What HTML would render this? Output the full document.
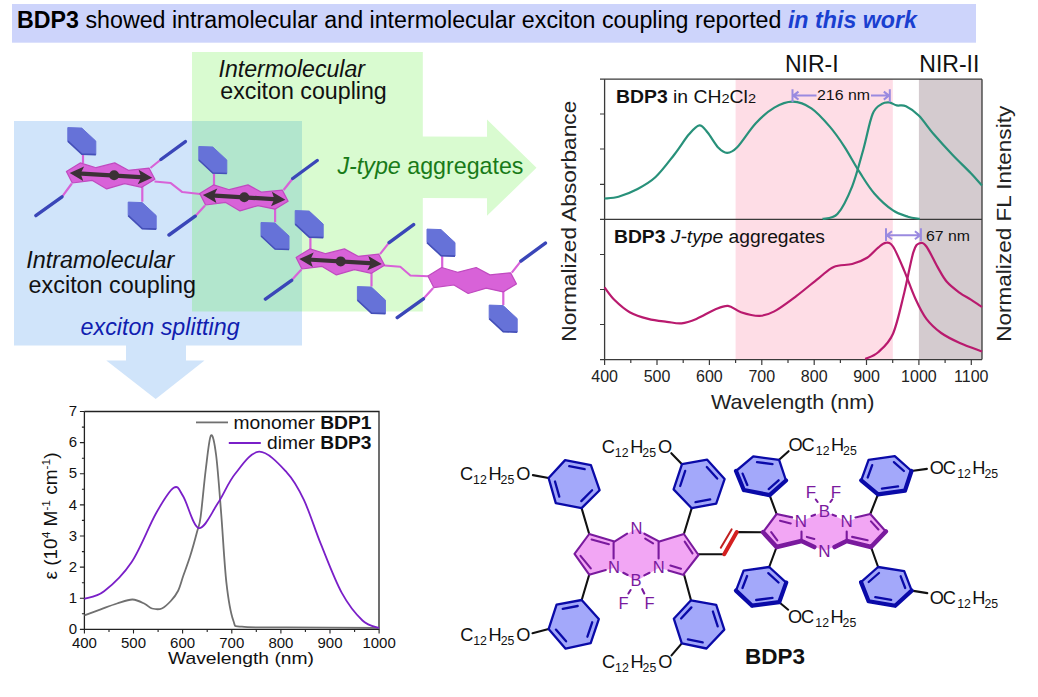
<!DOCTYPE html>
<html><head><meta charset="utf-8"><style>
html,body{margin:0;padding:0;background:#fff;}
body{width:1038px;height:697px;overflow:hidden;}
svg{display:block;}
</style></head><body>
<svg width="1038" height="697" viewBox="0 0 1038 697">
<rect x="12" y="4" width="964" height="38.7" fill="#cdd4fb"/>
<rect x="14" y="121" width="288" height="224.5" fill="#d0e4fa"/>
<polygon points="126,345 186,345 186,360.5 204.5,360.5 155.7,399 106.3,360.5 126,360.5" fill="#d0e4fa"/>
<polygon points="192,52 422.8,52 422.8,136.5 487,136.8 487,119.5 536.5,167.7 487,215.8 487,198.2 422.8,198 422.8,311.5 302,311.5 302,121 192,121" fill="#d9fbd0"/>
<rect x="192" y="121" width="110" height="190.5" fill="#b2e6cd"/>
<text x="17" y="27.7" font-family='"Liberation Sans", sans-serif' font-size="23" fill="#000" textLength="900" lengthAdjust="spacingAndGlyphs"><tspan font-weight="bold">BDP3</tspan> showed intramolecular and intermolecular exciton coupling reported <tspan font-weight="bold" font-style="italic" fill="#1a3fd0">in this work</tspan></text>
<text x="218.5" y="76.8" font-family='"Liberation Sans", sans-serif' font-size="23" font-style="italic" fill="#111" textLength="146.5" lengthAdjust="spacingAndGlyphs">Intermolecular</text>
<text x="220.3" y="99" font-family='"Liberation Sans", sans-serif' font-size="23" fill="#111" textLength="166.5" lengthAdjust="spacingAndGlyphs">exciton coupling</text>
<text x="337.5" y="174.2" font-family='"Liberation Sans", sans-serif' font-size="23.2" fill="#187a18" textLength="186" lengthAdjust="spacingAndGlyphs"><tspan font-style="italic">J-type</tspan> aggregates</text>
<text x="26.3" y="267.6" font-family='"Liberation Sans", sans-serif' font-size="23" font-style="italic" fill="#111" textLength="148" lengthAdjust="spacingAndGlyphs">Intramolecular</text>
<text x="28.6" y="292.8" font-family='"Liberation Sans", sans-serif' font-size="23" fill="#111" textLength="167.5" lengthAdjust="spacingAndGlyphs">exciton coupling</text>
<text x="80.6" y="334.8" font-family='"Liberation Sans", sans-serif' font-size="23" font-style="italic" fill="#1020b0" textLength="159" lengthAdjust="spacingAndGlyphs">exciton splitting</text>
<rect x="735.6" y="79.2" width="157.2" height="280.4" fill="#fedde6"/>
<rect x="918.9" y="79.2" width="63.1" height="280.4" fill="#d4cbcf"/>
<path d="M604.6,79.2 V359.6 M982,79.2 V359.6" stroke="#3a3a3a" stroke-width="1.3" fill="none"/>
<path d="M600,79.2 H982 M600,219.3 H982 M600,359.6 H982" stroke="#3a3a3a" stroke-width="1.3" fill="none"/>
<path d="M600,114 H604.6 M600,149 H604.6 M600,184.3 H604.6 M600,254.5 H604.6 M600,289.5 H604.6 M600,324.5 H604.6 M604.6,359.6 v5.3 M630.8,359.6 v3.5 M657,359.6 v5.3 M683.2,359.6 v3.5 M709.4,359.6 v5.3 M735.6,359.6 v3.5 M761.8,359.6 v5.3 M788,359.6 v3.5 M814.2,359.6 v5.3 M840.4,359.6 v3.5 M866.5,359.6 v5.3 M892.7,359.6 v3.5 M918.9,359.6 v5.3 M945.1,359.6 v3.5 M971.3,359.6 v5.3 " stroke="#3a3a3a" stroke-width="1.2" fill="none"/>
<text x="604.6" y="382" text-anchor="middle" font-family='"Liberation Sans", sans-serif' font-size="16" fill="#222">400</text>
<text x="657" y="382" text-anchor="middle" font-family='"Liberation Sans", sans-serif' font-size="16" fill="#222">500</text>
<text x="709.4" y="382" text-anchor="middle" font-family='"Liberation Sans", sans-serif' font-size="16" fill="#222">600</text>
<text x="761.8" y="382" text-anchor="middle" font-family='"Liberation Sans", sans-serif' font-size="16" fill="#222">700</text>
<text x="814.2" y="382" text-anchor="middle" font-family='"Liberation Sans", sans-serif' font-size="16" fill="#222">800</text>
<text x="866.5" y="382" text-anchor="middle" font-family='"Liberation Sans", sans-serif' font-size="16" fill="#222">900</text>
<text x="918.9" y="382" text-anchor="middle" font-family='"Liberation Sans", sans-serif' font-size="16" fill="#222">1000</text>
<text x="971.3" y="382" text-anchor="middle" font-family='"Liberation Sans", sans-serif' font-size="16" fill="#222">1100</text>
<text x="711" y="408.8" font-family='"Liberation Sans", sans-serif' font-size="20.4" fill="#222" textLength="163.5" lengthAdjust="spacingAndGlyphs">Wavelength (nm)</text>
<text x="785" y="71.9" font-family='"Liberation Sans", sans-serif' font-size="23" fill="#111">NIR-I</text>
<text x="919.3" y="71.9" font-family='"Liberation Sans", sans-serif' font-size="23" fill="#111">NIR-II</text>
<text transform="translate(575.5,341.7) rotate(-90)" x="0" y="0" font-family='"Liberation Sans", sans-serif' font-size="21" fill="#222" textLength="241" lengthAdjust="spacingAndGlyphs">Normalized Absorbance</text>
<text transform="translate(1011,341.8) rotate(-90)" x="0" y="0" font-family='"Liberation Sans", sans-serif' font-size="21" fill="#222" textLength="236" lengthAdjust="spacingAndGlyphs">Normalized FL Intensity</text>
<text x="616" y="103.1" font-family='"Liberation Sans", sans-serif' font-size="18" fill="#111" textLength="140" lengthAdjust="spacingAndGlyphs"><tspan font-weight="bold">BDP3</tspan> in CH<tspan font-size="13.5">2</tspan>Cl<tspan font-size="13.5">2</tspan></text>
<text x="614" y="243" font-family='"Liberation Sans", sans-serif' font-size="18" fill="#111" textLength="211" lengthAdjust="spacingAndGlyphs"><tspan font-weight="bold">BDP3</tspan> <tspan font-style="italic">J-type</tspan> aggregates</text>
<path d="M604.5,198.5 C606.8,198.2 613.1,198.2 618.5,196.7 C623.9,195.1 630.9,192.5 637.1,189.2 C643.3,185.9 649.4,182.8 655.6,177 C661.8,171.2 668.6,161.8 674.2,154.7 C679.8,147.6 684.8,139.2 689,134.3 C693.2,129.4 696.3,125.7 699.4,125.4 C702.5,125.1 704.4,128.7 707.6,132.5 C710.8,136.3 715.4,144.7 718.7,148.1 C722,151.5 724.1,153 727.2,152.9 C730.3,152.8 732.4,152.2 737.2,147.3 C742,142.4 749.6,129.8 755.8,123.2 C762,116.6 768.1,111.2 774.3,107.6 C780.5,104 786.7,101.6 792.9,101.7 C799.1,101.8 805.2,104.2 811.4,108.4 C817.6,112.6 824.4,120.4 830,126.9 C835.6,133.4 839.9,139.8 844.8,147.3 C849.7,154.9 854.6,164.5 859.6,172.2 C864.6,179.9 868.9,187.3 874.5,193.7 C880.1,200.1 887.4,206.6 893,210.4 C898.6,214.2 903.4,215.3 907.9,216.7 C912.4,218.1 917.7,218.5 919.7,218.9" stroke="#28917a" stroke-width="2.2" fill="none" stroke-linejoin="round"/>
<path d="M822.6,218.9 C825.1,218.1 832.5,219.5 837.4,214.1 C842.3,208.7 847.9,197.1 852.2,186.3 C856.5,175.5 860,161.2 863.4,149.2 C866.8,137.1 869.5,121.5 872.6,114 C875.7,106.5 879.1,105.8 881.9,103.9 C884.7,102 886.8,102.2 889.3,102.4 C891.8,102.7 893.9,104.8 896.7,105.4 C899.5,106 902.3,104.5 906,106.2 C909.7,107.9 914.4,111.1 919,115.8 C923.6,120.5 928.2,127.8 933.8,134.3 C939.4,140.8 946.2,148.2 952.4,154.7 C958.6,161.2 966,168.2 970.9,173.3 C975.8,178.4 980.1,183.5 982,185.5" stroke="#28917a" stroke-width="2.2" fill="none" stroke-linejoin="round"/>
<path d="M604.5,287.3 C606.2,289.5 610.6,296.2 614.8,300.3 C619,304.4 624.1,309.1 629.7,312.2 C635.3,315.3 642,317.3 648.2,318.9 C654.4,320.5 661.2,321.1 666.8,321.8 C672.4,322.5 676.7,323.8 681.6,323.3 C686.5,322.8 690.8,321.2 696.4,318.9 C702,316.6 709.7,311.8 715,309.6 C720.3,307.4 723.7,305.5 728,305.9 C732.3,306.3 735.8,310.5 741,312.2 C746.2,313.9 754,316 759.5,315.9 C765,315.8 768.1,314.7 774.3,311.4 C780.5,308.1 789.2,301.4 796.6,295.9 C804,290.3 812.6,282.9 818.8,278.1 C825,273.3 828.1,269.2 833.7,266.9 C839.3,264.5 846.6,265.5 852.2,264 C857.8,262.5 862.8,260.4 867.1,257.7 C871.4,255 875.1,250.1 878.2,247.6 C881.3,245.1 883.1,243 885.6,242.8 C888.1,242.6 889.9,241.9 893,246.5 C896.1,251.1 900.5,261.9 904.2,270.6 C907.9,279.3 911.6,290.4 915.3,298.5 C919,306.6 922.1,313.1 926.4,318.9 C930.7,324.6 935.6,329 941.2,333 C946.8,337 953,339.9 959.8,343 C966.6,346.1 978.3,350.1 982,351.5" stroke="#b91a6e" stroke-width="2.2" fill="none" stroke-linejoin="round"/>
<path d="M865.2,358.9 C867.4,357.8 873.6,356.4 878.2,352.2 C882.8,348 888.7,343.6 893,333.7 C897.3,323.8 900.8,306.5 904.2,292.9 C907.6,279.3 910.8,260.4 913.4,252.1 C916,243.8 917.5,244.1 919.7,243.2 C921.9,242.3 923.4,242.6 926.4,246.5 C929.4,250.4 934.1,261 937.5,266.9 C940.9,272.8 943.1,277.5 946.8,281.8 C950.5,286.1 955.8,289.9 959.8,292.9 C963.8,295.9 967.2,297.2 970.9,299.6 C974.6,302 980.1,305.8 982,307" stroke="#b91a6e" stroke-width="2.2" fill="none" stroke-linejoin="round"/>
<path d="M792.5,89.2 V102 M889.8,89.2 V102 M792.5,95.6 H816.5 M871,95.6 H889.8 M798.5,91.6 L793.3,95.6 L798.5,99.6 M883.8,91.6 L889.0,95.6 L883.8,99.6" stroke="#9a8ae0" stroke-width="2" fill="none"/>
<text x="817" y="99.7" font-family='"Liberation Sans", sans-serif' font-size="15.5" fill="#111" textLength="53" lengthAdjust="spacingAndGlyphs">216 nm</text>
<path d="M886,228.3 V241 M920.9,228.3 V241 M886,235.2 H920.9 M892,231.2 L886.8,235.2 L892,239.2 M914.9,231.2 L920.1,235.2 L914.9,239.2" stroke="#9a8ae0" stroke-width="2" fill="none"/>
<text x="926" y="241.4" font-family='"Liberation Sans", sans-serif' font-size="15.5" fill="#111" textLength="44" lengthAdjust="spacingAndGlyphs">67 nm</text>
<path d="M84.4,411.5 V629.4 H379 V411.5 H84.4" stroke="#222" stroke-width="1.3" fill="none"/>
<path d="M79.9,629.4 H84.4 M81.9,613.8 H84.4 M79.9,598.3 H84.4 M81.9,582.7 H84.4 M79.9,567.1 H84.4 M81.9,551.6 H84.4 M79.9,536 H84.4 M81.9,520.4 H84.4 M79.9,504.9 H84.4 M81.9,489.3 H84.4 M79.9,473.8 H84.4 M81.9,458.2 H84.4 M79.9,442.6 H84.4 M81.9,427.1 H84.4 M79.9,411.5 H84.4 M84.4,629.4 v4 M109,629.4 v2.5 M133.5,629.4 v4 M158.1,629.4 v2.5 M182.6,629.4 v4 M207.2,629.4 v2.5 M231.8,629.4 v4 M256.3,629.4 v2.5 M280.9,629.4 v4 M305.4,629.4 v2.5 M330,629.4 v4 M354.6,629.4 v2.5 M379.1,629.4 v4 " stroke="#222" stroke-width="1.1" fill="none"/>
<text x="77" y="634" text-anchor="end" font-family='"Liberation Sans", sans-serif' font-size="15" fill="#111">0</text>
<text x="77" y="602.9" text-anchor="end" font-family='"Liberation Sans", sans-serif' font-size="15" fill="#111">1</text>
<text x="77" y="571.7" text-anchor="end" font-family='"Liberation Sans", sans-serif' font-size="15" fill="#111">2</text>
<text x="77" y="540.6" text-anchor="end" font-family='"Liberation Sans", sans-serif' font-size="15" fill="#111">3</text>
<text x="77" y="509.5" text-anchor="end" font-family='"Liberation Sans", sans-serif' font-size="15" fill="#111">4</text>
<text x="77" y="478.4" text-anchor="end" font-family='"Liberation Sans", sans-serif' font-size="15" fill="#111">5</text>
<text x="77" y="447.2" text-anchor="end" font-family='"Liberation Sans", sans-serif' font-size="15" fill="#111">6</text>
<text x="77" y="416.1" text-anchor="end" font-family='"Liberation Sans", sans-serif' font-size="15" fill="#111">7</text>
<text x="84.4" y="648.3" text-anchor="middle" font-family='"Liberation Sans", sans-serif' font-size="15" fill="#111">400</text>
<text x="133.5" y="648.3" text-anchor="middle" font-family='"Liberation Sans", sans-serif' font-size="15" fill="#111">500</text>
<text x="182.6" y="648.3" text-anchor="middle" font-family='"Liberation Sans", sans-serif' font-size="15" fill="#111">600</text>
<text x="231.8" y="648.3" text-anchor="middle" font-family='"Liberation Sans", sans-serif' font-size="15" fill="#111">700</text>
<text x="280.9" y="648.3" text-anchor="middle" font-family='"Liberation Sans", sans-serif' font-size="15" fill="#111">800</text>
<text x="330" y="648.3" text-anchor="middle" font-family='"Liberation Sans", sans-serif' font-size="15" fill="#111">900</text>
<text x="379.1" y="648.3" text-anchor="middle" font-family='"Liberation Sans", sans-serif' font-size="15" fill="#111">1000</text>
<text x="168" y="664.3" font-family='"Liberation Sans", sans-serif' font-size="17" fill="#111" textLength="146" lengthAdjust="spacingAndGlyphs">Wavelength (nm)</text>
<text transform="translate(56.6,579.5) rotate(-90)" font-family='"Liberation Sans", sans-serif' font-size="17.5" fill="#111" textLength="127" lengthAdjust="spacingAndGlyphs">ε (10<tspan font-size="11" dy="-6.5">4</tspan><tspan dy="6.5"> M</tspan><tspan font-size="11" dy="-6.5">-1</tspan><tspan dy="6.5"> cm</tspan><tspan font-size="11" dy="-6.5">-1</tspan><tspan dy="6.5">)</tspan></text>
<path d="M84.4,615.3 C87.1,614.3 95.3,611.4 100.7,609.4 C106.1,607.4 111.7,605.1 117,603.5 C122.3,601.9 127.8,599.4 132.5,599.5 C137.2,599.6 141.8,602.5 145,604 C148.2,605.5 149.2,607.8 152,608.5 C154.8,609.2 158.7,609.8 161.8,608.5 C164.9,607.2 168.1,603.9 170.8,601 C173.5,598.1 175.9,595.2 178,591 C180.1,586.8 181.2,581.8 183.2,576 C185.2,570.2 187.9,563.3 190.2,556 C192.5,548.7 195.3,538.5 197,532 C198.7,525.5 199.2,527.4 200.6,517.1 C202,506.8 204,483.6 205.7,470 C207.4,456.4 209.2,438 210.9,435.5 C212.6,433 214.4,442 216.1,455 C217.8,468 219.5,492.4 221.2,513.7 C222.9,535 224.4,564.8 226.4,582.6 C228.4,600.4 230.7,613.1 233.3,620.5 C235.9,627.9 233,625.6 241.9,626.7 C250.8,627.9 263.8,627.2 286.7,627.4 C309.6,627.6 363.6,627.9 379,628" stroke="#707070" stroke-width="1.8" fill="none"/>
<path d="M84.4,598.8 C87.7,597.5 96.2,597.4 104.1,591.2 C112,585.1 123.1,574.8 131.7,561.9 C140.3,549 148.8,526.1 155.8,513.7 C162.8,501.4 169.1,490.7 173.7,487.8 C178.3,484.9 179.1,489.8 183.3,496.5 C187.5,503.2 193.1,527 198.8,528.1 C204.6,529.2 211.8,512.3 217.8,503.3 C223.8,494.3 228.1,482.6 235,474 C241.9,465.4 250.5,452 259.1,451.7 C267.7,451.4 279.2,464.3 286.7,472.3 C294.2,480.3 298.2,487.8 303.9,499.9 C309.6,512 314.8,529.2 321.1,544.7 C327.4,560.2 334.9,580.3 341.8,592.9 C348.7,605.5 356.3,614.6 362.5,620.5 C368.7,626.4 376.2,626.8 379,628" stroke="#7a1fc8" stroke-width="1.8" fill="none"/>
<path d="M196,422.4 H228" stroke="#707070" stroke-width="1.8"/>
<path d="M228.8,443 H260.8" stroke="#7a1fc8" stroke-width="1.8"/>
<text x="233.5" y="429" font-family='"Liberation Sans", sans-serif' font-size="18.2" fill="#111" textLength="138" lengthAdjust="spacingAndGlyphs">monomer <tspan font-weight="bold">BDP1</tspan></text>
<text x="267" y="449.3" font-family='"Liberation Sans", sans-serif' font-size="18.2" fill="#111" textLength="104.5" lengthAdjust="spacingAndGlyphs">dimer <tspan font-weight="bold">BDP3</tspan></text>
<path d="M532.9,475.1 L548.6,478" stroke="#111" stroke-width="2.1" stroke-linecap="round"/>
<path d="M581.6,508.1 L589.2,534" stroke="#111" stroke-width="2.1" stroke-linecap="round"/>
<path d="M671.3,453.2 L682,464.2" stroke="#111" stroke-width="2.1" stroke-linecap="round"/>
<path d="M691.7,508.2 L683.9,534" stroke="#111" stroke-width="2.1" stroke-linecap="round"/>
<path d="M532.5,633.2 L548.6,629.1" stroke="#111" stroke-width="2.1" stroke-linecap="round"/>
<path d="M581.7,600 L589.2,574.7" stroke="#111" stroke-width="2.1" stroke-linecap="round"/>
<path d="M671.5,655.4 L681.8,643.4" stroke="#111" stroke-width="2.1" stroke-linecap="round"/>
<path d="M691,600.3 L683.9,573.9" stroke="#111" stroke-width="2.1" stroke-linecap="round"/>
<path d="M698.2,554.2 L724.2,554.2" stroke="#111" stroke-width="2.1" stroke-linecap="round"/>
<path d="M736.8,532.1 L763.1,532.2" stroke="#111" stroke-width="2.1" stroke-linecap="round"/>
<path d="M788.6,451.2 L779.1,459.8" stroke="#111" stroke-width="2.1" stroke-linecap="round"/>
<path d="M769.6,495.1 L776.6,514" stroke="#111" stroke-width="2.1" stroke-linecap="round"/>
<path d="M926.9,468.9 L911.5,471" stroke="#111" stroke-width="2.1" stroke-linecap="round"/>
<path d="M878,494.3 L870.3,514" stroke="#111" stroke-width="2.1" stroke-linecap="round"/>
<path d="M788.2,609.7 L779.2,602.2" stroke="#111" stroke-width="2.1" stroke-linecap="round"/>
<path d="M769.2,567 L776.6,547" stroke="#111" stroke-width="2.1" stroke-linecap="round"/>
<path d="M927.3,593.1 L911.7,590.6" stroke="#111" stroke-width="2.1" stroke-linecap="round"/>
<path d="M878.1,567 L871,547" stroke="#111" stroke-width="2.1" stroke-linecap="round"/>
<path d="M724.2,554.2 L736.8,532.1" stroke="#d42020" stroke-width="4" stroke-linecap="round"/>
<path d="M720.8,547.7 L731.6,529.4" stroke="#c02020" stroke-width="2" stroke-linecap="round"/>
<polygon points="589.2,534 574.5,553.9 589.2,574.7 613.6,568 636.5,581 658.6,568 683.9,573.9 698.5,555 683.9,534 659.4,541.6 636.5,528.5 614.4,541.6" fill="#f2a6f4"/>
<path d="M589.2,534 L614.4,541.6 M589.2,534 L574.5,553.9 M574.5,553.9 L589.2,574.7 M589.2,574.7 L605.8,570 M614.4,541.6 L627.1,533.7 M644.4,533.7 L659.4,541.6 M613.6,541.6 L613.6,558.5 M658.6,541.6 L658.6,558.5 M683.9,534 L659.4,541.6 M683.9,534 L698.5,555 M698.5,555 L683.9,573.9 M683.9,575 L668.4,570.4 M591.6,539.5 L608.9,544.2 M580.5,555.8 L590.8,568.4 M645.2,538.6 L653.1,543.3 M684.7,541.6 L692.5,553.4 M670.4,565.5 L681,568.7 M623.3,572.8 L627.6,575 M644.3,575.4 L649.5,572.8 M628.4,593.5 L630.6,590 M642.2,589.2 L644.3,593.5 " stroke="#7a1a9e" stroke-width="2.1" stroke-linecap="round" fill="none"/>
<g font-family='"Liberation Sans", sans-serif' font-size="16.5" fill="#7a1a9e" text-anchor="middle"><text x="614" y="573.3">N</text><text x="658.8" y="573.3">N</text><text x="636.5" y="533.9">N</text><text x="636" y="586.3">B</text><text x="623.5" y="608.6">F</text><text x="649.5" y="608.6">F</text></g>
<polygon points="776.6,514 763.1,532.2 776.6,547 801.5,541 824.5,551.1 846.7,541 871,547 885.8,531.5 870.3,514 846.7,521.4 824.5,511.3 800.9,521.4" fill="#f2a6f4"/>
<path d="M776.6,514 L792.1,517.4 M776.6,514 L763.1,532.2 M801.5,531.5 L801.5,541 M846.7,531.5 L846.7,541 M855.5,517.4 L870.3,514 M870.3,514 L885.8,531.5 M780,520.7 L790.7,523.4 M771.2,532.2 L777.3,540.3 M806.9,536.9 L814.3,539 M871,521.4 L878.4,529.5 M852.1,536.9 L867.6,540.3 M811.6,516 L815,514.7 M835.9,516 L832.6,514.7 M815.8,499.5 L817.6,502 M832.2,499.5 L830.4,502 " stroke="#7a1a9e" stroke-width="2.1" stroke-linecap="round" fill="none"/>
<path d="M763.1,532.2 L776.6,547 M776.6,547 L801.5,541 M801.5,541 L814.3,547 M834.6,547 L846.7,541 M846.7,541 L871,547 M871,547 L885.8,531.5 " stroke="#7a1a9e" stroke-width="4.6" stroke-linecap="round" stroke-linejoin="round" fill="none"/>
<g font-family='"Liberation Sans", sans-serif' font-size="17" fill="#7a1a9e" text-anchor="middle"><text x="800.9" y="526.8">N</text><text x="846.7" y="526.8">N</text><text x="824.5" y="557.2">N</text><text x="824.5" y="516.7">B</text><text x="811" y="497.8">F</text><text x="835.9" y="497.8">F</text></g>
<polygon points="548.6,478 565.1,460.1 590.9,465.1 599.6,490.2 581.6,508.1 555.8,503.1" fill="#a3a8fa" stroke="#0a0aa8" stroke-width="2.3" stroke-linejoin="round"/>
<path d="M555,481.5 L559.3,496.6 M569.2,466.2 L584.7,469.2 M592.1,490.3 L581.3,501.1 " stroke="#0a0aa8" stroke-width="2.3" stroke-linecap="round" fill="none"/>
<polygon points="682,464.2 707.2,459.7 724.6,479.1 716.2,503.6 691.7,508.2 673.6,489.4" fill="#a3a8fa" stroke="#0a0aa8" stroke-width="2.3" stroke-linejoin="round"/>
<path d="M685.2,470.9 L680.2,486 M706.8,467 L717.2,478.6 M710.2,499.4 L695.5,502.2 " stroke="#0a0aa8" stroke-width="2.3" stroke-linecap="round" fill="none"/>
<polygon points="548.6,629.1 556.6,604.6 581.7,600 598.8,619.1 590.7,643.2 565.6,648.7" fill="#a3a8fa" stroke="#0a0aa8" stroke-width="2.3" stroke-linejoin="round"/>
<path d="M555.9,629.6 L566.1,641.3 M562.7,608.8 L577.7,606 M592.2,622.3 L587.4,636.7 " stroke="#0a0aa8" stroke-width="2.3" stroke-linecap="round" fill="none"/>
<polygon points="681.8,643.4 706.5,648.5 724.3,629.6 716.2,604.9 691,600.3 673.8,618.7" fill="#a3a8fa" stroke="#0a0aa8" stroke-width="2.3" stroke-linejoin="round"/>
<path d="M691.4,607.4 L681.1,618.5 M687.9,639.3 L702.7,642.4 M717.7,626.3 L712.9,611.5 " stroke="#0a0aa8" stroke-width="2.3" stroke-linecap="round" fill="none"/>
<polygon points="779.1,459.8 753.3,456.4 736,471 743.8,490 769.6,495.1 786,480.5" fill="#a3a8fa" stroke="#0a0aa8" stroke-width="2.3" stroke-linejoin="round"/>
<path d="M736,471 L743.8,490 M743.8,490 L769.6,495.1 M769.6,495.1 L786,480.5 " stroke="#0a0aa8" stroke-width="4.2" stroke-linecap="round" fill="none"/>
<path d="M772.5,464.1 L757,462.1 M742.6,473.6 L747.3,485 M768.7,489.1 L778.6,480.3 " stroke="#0a0aa8" stroke-width="2.3" stroke-linecap="round" fill="none"/>
<polygon points="911.5,471 894.8,456.1 868.6,459.8 861.2,480.4 878,494.3 905,490.6" fill="#a3a8fa" stroke="#0a0aa8" stroke-width="2.3" stroke-linejoin="round"/>
<path d="M861.2,480.4 L878,494.3 M878,494.3 L905,490.6 M905,490.6 L911.5,471 " stroke="#0a0aa8" stroke-width="4.2" stroke-linecap="round" fill="none"/>
<path d="M872.2,465.2 L867.7,477.5 M903.9,471 L893.9,462.1 M881.9,488.6 L898.1,486.3 " stroke="#0a0aa8" stroke-width="2.3" stroke-linecap="round" fill="none"/>
<polygon points="779.2,602.2 752.1,605.7 736,590.6 743.6,570.6 769.2,567 786.2,582.6" fill="#a3a8fa" stroke="#0a0aa8" stroke-width="2.3" stroke-linejoin="round"/>
<path d="M786.2,582.6 L779.2,602.2 M779.2,602.2 L752.1,605.7 M752.1,605.7 L736,590.6 " stroke="#0a0aa8" stroke-width="4.2" stroke-linecap="round" fill="none"/>
<path d="M768.3,573.1 L778.5,582.5 M772.5,597.9 L756.2,600 M742.5,588 L747.1,576 " stroke="#0a0aa8" stroke-width="2.3" stroke-linecap="round" fill="none"/>
<polygon points="911.7,590.6 895.2,605.7 868.6,601.2 861,582.1 878.1,567 904.2,571.1" fill="#a3a8fa" stroke="#0a0aa8" stroke-width="2.3" stroke-linejoin="round"/>
<path d="M911.7,590.6 L895.2,605.7 M895.2,605.7 L868.6,601.2 M868.6,601.2 L861,582.1 " stroke="#0a0aa8" stroke-width="4.2" stroke-linecap="round" fill="none"/>
<path d="M868.7,582 L879,573 M891.2,599.8 L875.3,597.1 M900.7,576.3 L905.2,588 " stroke="#0a0aa8" stroke-width="2.3" stroke-linecap="round" fill="none"/>
<g font-family='"Liberation Sans", sans-serif' fill="#111"><text x="460.1" y="480.4" font-size="18.2">C</text><text x="473.1" y="484.4" font-size="12.3">12</text><text x="488.5" y="480.4" font-size="18.2">H</text><text x="500.6" y="484.4" font-size="12.3">25</text><text x="516.2" y="480.4" font-size="18.2">O</text></g>
<g font-family='"Liberation Sans", sans-serif' fill="#111"><text x="601.8" y="452.8" font-size="18.2">C</text><text x="614.8" y="456.8" font-size="12.3">12</text><text x="630.2" y="452.8" font-size="18.2">H</text><text x="642.3" y="456.8" font-size="12.3">25</text><text x="657.9" y="452.8" font-size="18.2">O</text></g>
<g font-family='"Liberation Sans", sans-serif' fill="#111"><text x="460.2" y="641" font-size="18.2">C</text><text x="473.2" y="645" font-size="12.3">12</text><text x="488.6" y="641" font-size="18.2">H</text><text x="500.7" y="645" font-size="12.3">25</text><text x="516.3" y="641" font-size="18.2">O</text></g>
<g font-family='"Liberation Sans", sans-serif' fill="#111"><text x="602.1" y="667.6" font-size="18.2">C</text><text x="615.1" y="671.6" font-size="12.3">12</text><text x="630.5" y="667.6" font-size="18.2">H</text><text x="642.6" y="671.6" font-size="12.3">25</text><text x="658.2" y="667.6" font-size="18.2">O</text></g>
<g font-family='"Liberation Sans", sans-serif' fill="#111"><text x="788.4" y="451.2" font-size="18.2">O</text><text x="801.4" y="451.2" font-size="18.2">C</text><text x="815.8" y="455.2" font-size="12.3">12</text><text x="830.9" y="451.2" font-size="18.2">H</text><text x="843.1" y="455.2" font-size="12.3">25</text></g>
<g font-family='"Liberation Sans", sans-serif' fill="#111"><text x="929.8" y="473.6" font-size="18.2">O</text><text x="942.8" y="473.6" font-size="18.2">C</text><text x="957.2" y="477.6" font-size="12.3">12</text><text x="972.3" y="473.6" font-size="18.2">H</text><text x="984.5" y="477.6" font-size="12.3">25</text></g>
<g font-family='"Liberation Sans", sans-serif' fill="#111"><text x="787.9" y="622.7" font-size="18.2">O</text><text x="800.9" y="622.7" font-size="18.2">C</text><text x="815.3" y="626.7" font-size="12.3">12</text><text x="830.4" y="622.7" font-size="18.2">H</text><text x="842.6" y="626.7" font-size="12.3">25</text></g>
<g font-family='"Liberation Sans", sans-serif' fill="#111"><text x="929.8" y="603.7" font-size="18.2">O</text><text x="942.8" y="603.7" font-size="18.2">C</text><text x="957.2" y="607.7" font-size="12.3">12</text><text x="972.3" y="603.7" font-size="18.2">H</text><text x="984.5" y="607.7" font-size="12.3">25</text></g>
<text x="745" y="664" font-family='"Liberation Sans", sans-serif' font-size="21.5" font-weight="bold" fill="#111" textLength="60" lengthAdjust="spacingAndGlyphs">BDP3</text>
<path d="M154.5,181.5 L170.8,183.1 L182.3,192.1 L200.1,194 M384.4,265.5 L400.3,266.8 L410.4,275.4 L427.9,276.3" stroke="#d862d8" stroke-width="2" fill="none" stroke-linejoin="round"/>
<g><path d="M83,163.3 L83,154.3 M142.3,186.3 L142.3,201.8 M150.4,168 L160.9,159.5 M71.8,183.5 L62,196.8 " stroke="#d862d8" stroke-width="2.2" fill="none"/><path d="M160.9,159.5 L185.4,141.6 M62,196.8 L35.8,215.6 " stroke="#3a46b8" stroke-width="3.4" stroke-linecap="round" fill="none"/><polygon points="67.8,127.6 81.8,128.1 95.8,141.1 95.8,154.6 81.8,154.1 67.8,141.1" fill="#6672d8" stroke="#6672d8" stroke-width="1" stroke-linejoin="round"/><path d="M67.8,141.1 L81.8,154.1 L95.8,154.6" stroke="#4550b8" stroke-width="1.6" fill="none" stroke-linejoin="round"/><polygon points="128.2,202.1 142.2,202.6 156.2,215.6 156.2,229.1 142.2,228.6 128.2,215.6" fill="#6672d8" stroke="#6672d8" stroke-width="1" stroke-linejoin="round"/><path d="M128.2,215.6 L142.2,228.6 L156.2,229.1" stroke="#4550b8" stroke-width="1.6" fill="none" stroke-linejoin="round"/><polygon points="66.4,171.4 80.2,162.9 96.1,167.7 114.7,162.9 128.4,170.3 149.1,168.2 154.9,179.3 141.7,187.3 124.7,183.6 106.7,188.9 92.4,180.4 72.3,183" fill="#d862d8" stroke="#c04ac0" stroke-width="1.2" stroke-linejoin="round"/><path d="M77.6,173.4 L144.2,177.4" stroke="#3b3136" stroke-width="4.2"/><polygon points="69.7,172.9 83.2,181 80.6,173.6 84.1,166.6" fill="#3b3136"/><polygon points="152.2,177.8 137.7,184.2 141.2,177.2 138.6,169.8" fill="#3b3136"/><circle cx="114.1" cy="175.3" r="5" fill="#3b3136"/></g>
<g><path d="M214,185.3 L214,173.3 M275.1,208.3 L275.1,222.3 M283.6,190 L292.7,178.5 M205,205.5 L195.2,216.2 " stroke="#d862d8" stroke-width="2.2" fill="none"/><path d="M292.7,178.5 L317.2,160.5 M195.2,216.2 L169,235 " stroke="#3a46b8" stroke-width="3.4" stroke-linecap="round" fill="none"/><polygon points="198.8,146.5 212.8,147 226.8,160 226.8,173.5 212.8,173 198.8,160" fill="#6672d8" stroke="#6672d8" stroke-width="1" stroke-linejoin="round"/><path d="M198.8,160 L212.8,173 L226.8,173.5" stroke="#4550b8" stroke-width="1.6" fill="none" stroke-linejoin="round"/><polygon points="261,222.5 275,223 289,236 289,249.5 275,249 261,236" fill="#6672d8" stroke="#6672d8" stroke-width="1" stroke-linejoin="round"/><path d="M261,236 L275,249 L289,249.5" stroke="#4550b8" stroke-width="1.6" fill="none" stroke-linejoin="round"/><polygon points="199.7,193.4 213.5,184.9 229.3,189.7 248,184.9 261.6,192.2 282.4,190.2 288.1,201.2 274.9,209.2 257.9,205.6 240,210.9 225.7,202.4 205.6,205" fill="#d862d8" stroke="#c04ac0" stroke-width="1.2" stroke-linejoin="round"/><path d="M210.9,195.4 L277.4,199.3" stroke="#3b3136" stroke-width="4.2"/><polygon points="202.9,194.9 216.4,202.9 213.9,195.6 217.3,188.5" fill="#3b3136"/><polygon points="285.4,199.8 271,206.2 274.4,199.1 271.9,191.8" fill="#3b3136"/><circle cx="244.3" cy="197.3" r="5" fill="#3b3136"/></g>
<g><path d="M310.4,249.4 L310.4,237.4 M371.5,272.4 L371.5,286.4 M380,254.1 L389.1,242.6 M301.4,269.6 L291.6,280.3 " stroke="#d862d8" stroke-width="2.2" fill="none"/><path d="M389.1,242.6 L413.6,224.6 M291.6,280.3 L265.4,299.1 " stroke="#3a46b8" stroke-width="3.4" stroke-linecap="round" fill="none"/><polygon points="295.2,210.6 309.2,211.1 323.2,224.1 323.2,237.6 309.2,237.1 295.2,224.1" fill="#6672d8" stroke="#6672d8" stroke-width="1" stroke-linejoin="round"/><path d="M295.2,224.1 L309.2,237.1 L323.2,237.6" stroke="#4550b8" stroke-width="1.6" fill="none" stroke-linejoin="round"/><polygon points="357.4,286.6 371.4,287.1 385.4,300.1 385.4,313.6 371.4,313.1 357.4,300.1" fill="#6672d8" stroke="#6672d8" stroke-width="1" stroke-linejoin="round"/><path d="M357.4,300.1 L371.4,313.1 L385.4,313.6" stroke="#4550b8" stroke-width="1.6" fill="none" stroke-linejoin="round"/><polygon points="296.1,257.4 309.9,248.9 325.8,253.7 344.4,248.9 358.1,256.3 378.8,254.2 384.6,265.3 371.4,273.3 354.4,269.6 336.4,274.9 322.1,266.4 301.9,269" fill="#d862d8" stroke="#c04ac0" stroke-width="1.2" stroke-linejoin="round"/><path d="M307.3,259.5 L373.8,263.4" stroke="#3b3136" stroke-width="4.2"/><polygon points="299.3,259 312.8,267 310.3,259.7 313.7,252.6" fill="#3b3136"/><polygon points="381.8,263.9 367.4,270.3 370.8,263.2 368.3,255.9" fill="#3b3136"/><circle cx="340.7" cy="261.4" r="5" fill="#3b3136"/></g>
<g><path d="M442.2,267.9 L442.2,255.9 M503.3,290.9 L503.3,304.9 M511.8,272.6 L520.9,261.1 M433.2,288.1 L423.4,298.8 " stroke="#d862d8" stroke-width="2.2" fill="none"/><path d="M520.9,261.1 L545.4,243.1 M423.4,298.8 L397.2,317.6 " stroke="#3a46b8" stroke-width="3.4" stroke-linecap="round" fill="none"/><polygon points="427,229.1 441,229.6 455,242.6 455,256.1 441,255.6 427,242.6" fill="#6672d8" stroke="#6672d8" stroke-width="1" stroke-linejoin="round"/><path d="M427,242.6 L441,255.6 L455,256.1" stroke="#4550b8" stroke-width="1.6" fill="none" stroke-linejoin="round"/><polygon points="489.2,305.1 503.2,305.6 517.2,318.6 517.2,332.1 503.2,331.6 489.2,318.6" fill="#6672d8" stroke="#6672d8" stroke-width="1" stroke-linejoin="round"/><path d="M489.2,318.6 L503.2,331.6 L517.2,332.1" stroke="#4550b8" stroke-width="1.6" fill="none" stroke-linejoin="round"/><polygon points="427.9,276 441.7,267.5 457.6,272.3 476.2,267.5 489.9,274.9 510.6,272.8 516.4,283.9 503.2,291.9 486.2,288.2 468.2,293.5 453.9,285 433.8,287.6" fill="#d862d8" stroke="#c04ac0" stroke-width="1.2" stroke-linejoin="round"/></g>
</svg>
</body></html>
